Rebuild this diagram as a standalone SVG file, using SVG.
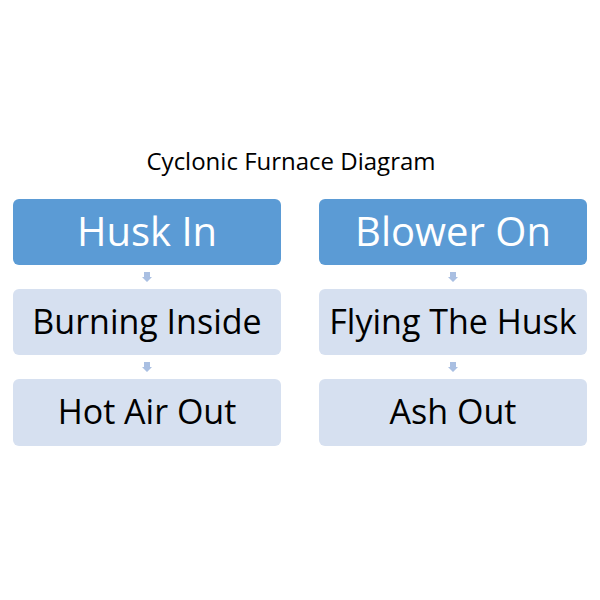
<svg xmlns="http://www.w3.org/2000/svg" width="600" height="600" viewBox="0 0 600 600">
<style>
.hdr{fill:#5B9BD5}
.sub{fill:#D6E0F0}
.t{font-family:"Open Sans","Noto Sans",sans-serif;font-size:34px;text-anchor:middle;dominant-baseline:central}
.h{font-size:40px}
.w{fill:#FFFFFF}
.k{fill:#000000}
.arr{fill:#A9BFE2}
.title{font-family:"Open Sans","Noto Sans",sans-serif;font-size:24px;text-anchor:middle;fill:#000}
</style>
<rect width="600" height="600" fill="#FFFFFF"/>
<text class="title" x="291" y="170">Cyclonic Furnace Diagram</text>
<g id="husk-in"><rect class="hdr" x="13" y="199" width="268" height="66" rx="6"/><text class="t h w" x="147" y="230">Husk In</text></g>
<g id="burning-inside"><rect class="sub" x="13" y="289" width="268" height="66" rx="6"/><text class="t k" x="147" y="321">Burning Inside</text></g>
<g id="hot-air-out"><rect class="sub" x="13" y="379" width="268" height="67" rx="6"/><text class="t k" x="147" y="411">Hot Air Out</text></g>
<g id="blower-on"><rect class="hdr" x="319" y="199" width="268" height="66" rx="6"/><text class="t h w" x="453" y="230">Blower On</text></g>
<g id="flying-the-husk"><rect class="sub" x="319" y="289" width="268" height="66" rx="6"/><text class="t k" x="453" y="321">Flying The Husk</text></g>
<g id="ash-out"><rect class="sub" x="319" y="379" width="268" height="67" rx="6"/><text class="t k" x="453" y="411">Ash Out</text></g>
<g id="connectors">
<polygon class="arr" points="144,272 150,272 150,277 152,277 147,282 142,277 144,277"/>
<polygon class="arr" points="144,362 150,362 150,367 152,367 147,372 142,367 144,367"/>
<polygon class="arr" points="450,272 456,272 456,277 458,277 453,282 448,277 450,277"/>
<polygon class="arr" points="450,362 456,362 456,367 458,367 453,372 448,367 450,367"/>
</g>
</svg>
